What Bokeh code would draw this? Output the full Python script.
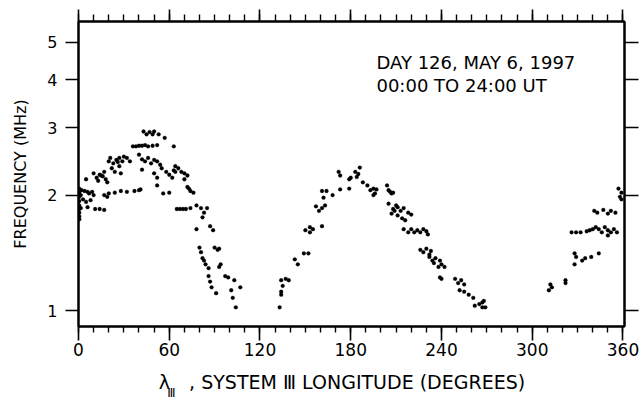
from bokeh.plotting import figure
from bokeh.models import (Range1d, FixedTicker, LinearAxis, LogAxis, Label,
                          PrintfTickFormatter, ColumnDataSource)
from bokeh.embed import file_html
from bokeh.resources import INLINE

# ---- data: System III longitude (deg) and frequency (MHz) ----
lon_a = [0.5, 0.5, 0.5, 0.5, 0.5, 0.5, 0.5, 0.5, 0.5, 1.5, 1.5,
         2, 4, 6, 7, 9, 10, 3, 5, 8,
         6, 11, 14, 17,
         5,
         10, 12, 13, 15, 17, 18, 19, 14, 16,
         17, 19, 20,
         20, 21, 23, 25, 27, 29, 30, 26, 32, 34,
         22, 24, 27, 28,
         24, 28,
         32, 37, 40, 41,
         36, 38, 40, 42, 44, 46, 49, 52,
         43, 45, 47, 49, 50,
         53, 57, 63,
         40, 42, 44, 46, 48, 50, 52, 54,
         42,
         50, 52, 55,
         58, 60, 62, 64, 63,
         52,
         56, 60,
         64, 66, 68, 70, 72,
         70, 72, 74, 76, 73,
         65, 67, 69, 71, 74,
         78, 81, 83, 85, 82,
         78,
         87, 89,
         80, 81, 82, 83,
         84, 86,
         86, 87, 88,
         91,
         90, 92, 93,
         94, 93,
         97, 99,
         101, 102,
         103, 104, 107]
freq_a = [2.08, 2.03, 1.98, 1.93, 1.88, 1.84, 1.80, 1.76, 1.73, 2.00, 1.85,
          2.06, 2.05, 2.04, 2.02, 2.04, 2.00, 1.95, 1.92, 1.94,
          1.86, 1.84, 1.84, 1.83,
          2.20,
          2.28, 2.22, 2.18, 2.25, 2.30, 2.20, 2.16, 2.26, 2.24,
          2.00, 1.98, 2.02,
          2.45, 2.50, 2.42, 2.47, 2.50, 2.45, 2.52, 2.44, 2.50, 2.45,
          2.35, 2.30, 2.38, 2.28,
          2.03, 2.05,
          2.04, 2.05, 2.06, 2.07,
          2.68, 2.68, 2.69, 2.69, 2.70, 2.68, 2.69, 2.70,
          2.93, 2.88, 2.92, 2.88, 2.93,
          2.88, 2.82, 2.68,
          2.55, 2.48, 2.45, 2.50, 2.42, 2.47, 2.45, 2.40,
          2.33,
          2.28, 2.22, 2.35,
          2.30, 2.26, 2.22, 2.30, 2.32,
          2.12,
          2.02, 2.03,
          2.38, 2.35, 2.30, 2.28, 2.25,
          2.20, 2.10, 2.05, 2.03, 2.08,
          1.84, 1.84, 1.84, 1.84, 1.85,
          1.88, 1.85, 1.80, 1.85, 1.75,
          1.63,
          1.66, 1.62,
          1.46, 1.42, 1.37, 1.35,
          1.32, 1.29,
          1.23, 1.19, 1.15,
          1.11,
          1.46, 1.44, 1.45,
          1.32, 1.30,
          1.23, 1.22,
          1.13, 1.08,
          1.20, 1.02, 1.15]

lon_b = [133, 134, 134, 134, 137, 139, 135,
         143, 145, 149, 152,
         150, 153, 155, 153, 161,
         157, 159, 161, 163,
         161, 162, 164, 168,
         172, 173, 173, 179, 180, 179,
         183, 184, 185, 186, 188,
         191, 193, 195, 196, 197, 195,
         204, 205, 206, 207, 208,
         205, 208, 210, 211, 213, 215, 209,
         207, 211, 214, 216, 218, 220,
         215, 218, 220, 222, 224, 226, 228, 230, 231,
         226, 228, 230, 232, 233,
         232, 234, 235, 236, 238, 240, 242, 239,
         240, 239,
         249, 251, 253, 255,
         252, 255, 258,
         261, 262, 265, 267, 267, 268, 269]
freq_b = [1.02, 1.10, 1.12, 1.20, 1.21, 1.20, 1.16,
          1.36, 1.32, 1.41, 1.41,
          1.62, 1.60, 1.63, 1.65, 1.66,
          1.87, 1.82, 1.85, 1.88,
          2.05, 1.97, 2.05, 2.00,
          2.30, 2.25, 2.07, 2.20, 2.22, 2.08,
          2.30, 2.23, 2.27, 2.36, 2.16,
          2.12, 2.06, 2.08, 2.02, 2.07, 2.00,
          2.12, 2.06, 2.04, 2.02, 2.03,
          1.90, 1.84, 1.88, 1.86, 1.82, 1.85, 1.82,
          1.79, 1.77, 1.74, 1.72, 1.80, 1.78,
          1.63, 1.60, 1.63, 1.60, 1.62, 1.60, 1.63, 1.61, 1.58,
          1.44, 1.42, 1.45, 1.40, 1.43,
          1.38, 1.35, 1.33, 1.37, 1.30, 1.32, 1.30, 1.35,
          1.21, 1.22,
          1.21, 1.18, 1.20, 1.17,
          1.13, 1.12, 1.10,
          1.08, 1.03, 1.04, 1.05, 1.02, 1.06, 1.02]

lon_c = [311, 312, 313, 322, 322,
         328, 329, 328, 333, 335, 339, 344,
         326, 329, 332, 336,
         338, 340, 342, 344, 346, 348, 350, 352, 354, 356, 350,
         341, 343, 347, 350, 352, 355,
         357, 358, 359, 359]
freq_c = [1.13, 1.17, 1.15, 1.18, 1.20,
          1.41, 1.38, 1.32, 1.35, 1.37, 1.38, 1.41,
          1.60, 1.60, 1.60, 1.61,
          1.62, 1.63, 1.65, 1.63, 1.60, 1.65, 1.62, 1.60, 1.63, 1.60, 1.57,
          1.82, 1.80, 1.83, 1.79, 1.82, 1.80,
          2.08, 1.98, 1.95, 2.03]

x_ticks = [0, 60, 120, 180, 240, 300, 360]
x_minor = list(range(0, 361, 10))
y_ticks = [1, 2, 3, 4, 5]

title_line1 = "DAY 126, MAY 6, 1997"
title_line2 = "00:00 TO 24:00 UT"
y_title = "FREQUENCY (MHz)"
x_title = "λ\u2003, SYSTEM Ⅲ LONGITUDE (DEGREES)\u2003"
x_sub = "Ⅲ"

FONT = "DejaVu Sans"

src = ColumnDataSource(dict(lon=lon_a + lon_b + lon_c,
                            freq=freq_a + freq_b + freq_c))

p = figure(width=639, height=402, output_backend="svg", toolbar_location=None,
           y_axis_type="log",
           x_range=Range1d(0, 361), y_range=Range1d(0.909, 5.67),
           min_border_left=78, min_border_right=15,
           min_border_top=21, min_border_bottom=74)
p.grid.visible = False
p.outline_line_color = "black"
p.outline_line_width = 2
p.background_fill_color = "white"
p.border_fill_color = "white"

p.scatter("lon", "freq", source=src, size=3.8, marker="circle",
          fill_color="black", line_color="black", line_width=0.3)

xt = FixedTicker(ticks=x_ticks, minor_ticks=x_minor)
yt = FixedTicker(ticks=y_ticks)


def style(ax, labels=True):
    ax.axis_line_color = "black"
    ax.axis_line_width = 2
    ax.major_tick_line_color = "black"
    ax.major_tick_line_width = 1.6
    ax.minor_tick_line_color = "black"
    ax.minor_tick_line_width = 1.4
    ax.major_tick_in = 0
    ax.minor_tick_in = 0
    ax.major_tick_out = 12
    ax.minor_tick_out = 6
    ax.major_label_text_font = FONT
    ax.major_label_text_color = "black"
    ax.axis_label_text_font = FONT
    ax.axis_label_text_font_style = "normal"
    ax.axis_label_text_color = "black"
    if not labels:
        ax.major_label_text_font_size = "1px"
        ax.major_label_standoff = 0
        ax.major_label_overrides = {t: "" for t in ax.ticker.ticks}


xa = p.xaxis[0]
xa.ticker = xt
style(xa)
xa.major_tick_out = 14
xa.major_label_text_font_size = "17px"
xa.major_label_standoff = 2
xa.axis_label = x_title
xa.axis_label_text_font_size = "19px"
xa.axis_label_standoff = 12

# subscript of lambda, drawn as the label of a bare axis below
sub = LinearAxis(ticker=FixedTicker(ticks=[]), axis_line_color=None,
                 major_tick_line_color=None, minor_tick_line_color=None,
                 major_label_text_font_size="0px", major_label_standoff=0,
                 major_tick_out=0, minor_tick_out=0,
                 axis_label=x_sub + "\u2003" * 30,
                 axis_label_text_font=FONT, axis_label_text_font_size="12px",
                 axis_label_text_font_style="normal",
                 axis_label_text_color="black",
                 axis_label_standoff=-10)
p.add_layout(sub, "below")

ya = p.yaxis[0]
ya.ticker = yt
ya.formatter = PrintfTickFormatter(format="%d")
style(ya)
ya.minor_tick_line_color = None
ya.major_tick_out = 13
ya.major_label_text_font_size = "16px"
ya.major_label_standoff = 8
ya.axis_label = y_title
ya.axis_label_text_font_size = "16px"
ya.axis_label_standoff = 14

top = LinearAxis(ticker=xt)
style(top, labels=False)
top.major_tick_out = 12
top.minor_tick_out = 7
p.add_layout(top, "above")

right = LogAxis(ticker=yt, formatter=PrintfTickFormatter(format="%d"))
style(right, labels=False)
right.minor_tick_line_color = None
right.major_tick_out = 14
p.add_layout(right, "right")

# annotation text
p.add_layout(Label(x=197, y=4.43, text=title_line1, text_font=FONT,
                   text_font_size="18px", text_color="black",
                   text_baseline="alphabetic", text_align="left"))
p.add_layout(Label(x=197, y=3.87, text=title_line2, text_font=FONT,
                   text_font_size="18px", text_color="black",
                   text_baseline="alphabetic", text_align="left"))

open("out.html", "w").write(file_html(p, INLINE))
